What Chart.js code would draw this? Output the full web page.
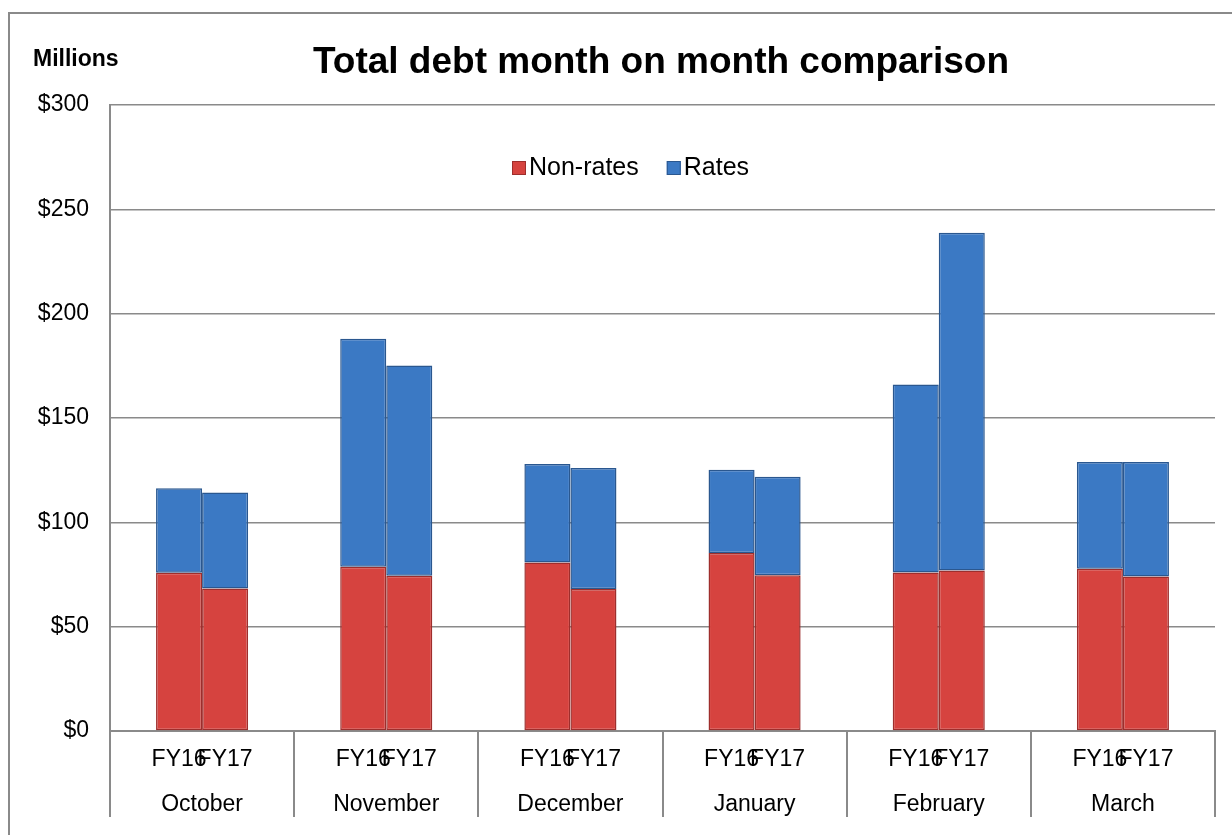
<!DOCTYPE html>
<html>
<head>
<meta charset="utf-8">
<script src="https://cdn.jsdelivr.net/npm/chart.js@4/dist/chart.umd.min.js"></script>
<style>
  html, body { margin: 0; padding: 0; background: #fff; overflow: hidden; }
  #wrap { position: relative; width: 1232px; height: 835px; }
  #frame { position: absolute; left: 8px; top: 12px; width: 1240px; height: 840px; border: 2px solid #8a8a8a; }
  canvas { position: absolute; left: 0; top: 0; }
</style>
</head>
<body>
<div id="wrap">
  <div id="frame"></div>
  <canvas id="debt" width="1232" height="835"></canvas>
</div>
<script>
const months = ["October", "November", "December", "January", "February", "March"];
const years = ["FY16", "FY17"];
const yTicks = [0, 50, 100, 150, 200, 250, 300];

// $ millions
const nonRatesFY16 = [75.8, 78.7, 80.8, 85.3, 76.0, 77.7];
const ratesFY16 = [40.5, 109.3, 47.1, 39.9, 90.0, 51.2];
const nonRatesFY17 = [68.3, 74.4, 68.1, 74.7, 76.9, 74.0];
const ratesFY17 = [46.0, 100.7, 57.9, 47.2, 161.9, 54.9];

const RED = "#d6433f", RED_EDGE = "#9e2e2c";
const BLUE = "#3b79c4", BLUE_EDGE = "#2a578f";
const FONT = "'Liberation Sans', Arial, sans-serif";

function ds(label, data, stack, bg, edge) {
    return {
        label: label,
        data: data,
        stack: stack,
        backgroundColor: bg,
        borderColor: edge,
        borderWidth: 1.5,
        borderSkipped: false,
        categoryPercentage: 0.5,
        barPercentage: 1.0
    };
}

// title, "Millions", FY labels under the bars and the legend inside the plot
const extras = {
    id: "extras",
    afterDraw(chart) {
        const ctx = chart.ctx;
        ctx.save();
        ctx.fillStyle = "#000";
        ctx.textBaseline = "middle";

        ctx.textAlign = "center";
        ctx.font = "bold 37px " + FONT;
        ctx.fillText("Total debt month on month comparison", 661, 63);

        ctx.textAlign = "left";
        ctx.font = "bold 23px " + FONT;
        ctx.fillText("Millions", 33, 60);

        ctx.textAlign = "center";
        ctx.font = "23px " + FONT;
        [0, 2].forEach((di, yi) => {
            chart.getDatasetMeta(di).data.forEach((bar) => {
                ctx.fillText(years[yi], bar.x, 760);
            });
        });

        // legend
        const items = [chart.data.datasets[0], chart.data.datasets[1]];
        ctx.font = "25px " + FONT;
        ctx.textAlign = "left";
        let x = 512;
        const y = 168;
        items.forEach((d) => {
            ctx.fillStyle = d.backgroundColor;
            ctx.fillRect(x, y - 7, 14, 14);
            ctx.strokeStyle = d.borderColor;
            ctx.lineWidth = 1;
            ctx.strokeRect(x + 0.5, y - 6.5, 13, 13);
            ctx.fillStyle = "#000";
            ctx.fillText(d.label, x + 17, y);
            x += 17 + ctx.measureText(d.label).width + 28;
        });
        ctx.restore();
    }
};

new Chart(document.getElementById("debt").getContext("2d"), {
    type: "bar",
    data: {
        labels: months,
        datasets: [
            ds("Non-rates", nonRatesFY16, "FY16", RED, RED_EDGE),
            ds("Rates", ratesFY16, "FY16", BLUE, BLUE_EDGE),
            ds("Non-rates", nonRatesFY17, "FY17", RED, RED_EDGE),
            ds("Rates", ratesFY17, "FY17", BLUE, BLUE_EDGE)
        ]
    },
    options: {
        responsive: false,
        animation: false,
        layout: { padding: { top: 105, right: 17, bottom: 0, left: 0 } },
        plugins: {
            legend: { display: false },
            title: { display: false },
            tooltip: { enabled: false }
        },
        scales: {
            x: {
                stacked: true,
                afterFit(scale) { scale.height = 104; },
                grid: {
                    offset: true,
                    drawOnChartArea: false,
                    drawTicks: true,
                    tickLength: 86,
                    color: "#8a8a8a",
                    lineWidth: 2
                },
                border: { display: true, color: "#8a8a8a", width: 2 },
                ticks: {
                    color: "#000",
                    font: { family: FONT, size: 23 },
                    padding: -26,
                    maxRotation: 0,
                    autoSkip: false
                }
            },
            y: {
                stacked: true,
                min: 0,
                max: 300,
                afterFit(scale) { scale.width = 110; },
                afterBuildTicks(scale) { scale.ticks = yTicks.map((v) => ({ value: v })); },
                grid: { color: "#8a8a8a", lineWidth: 1.5, drawTicks: false },
                border: { display: true, color: "#8a8a8a", width: 2 },
                ticks: {
                    color: "#000",
                    font: { family: FONT, size: 23 },
                    padding: 21,
                    callback: (v) => "$" + v
                }
            }
        }
    },
    plugins: [extras]
});
</script>
</body>
</html>
